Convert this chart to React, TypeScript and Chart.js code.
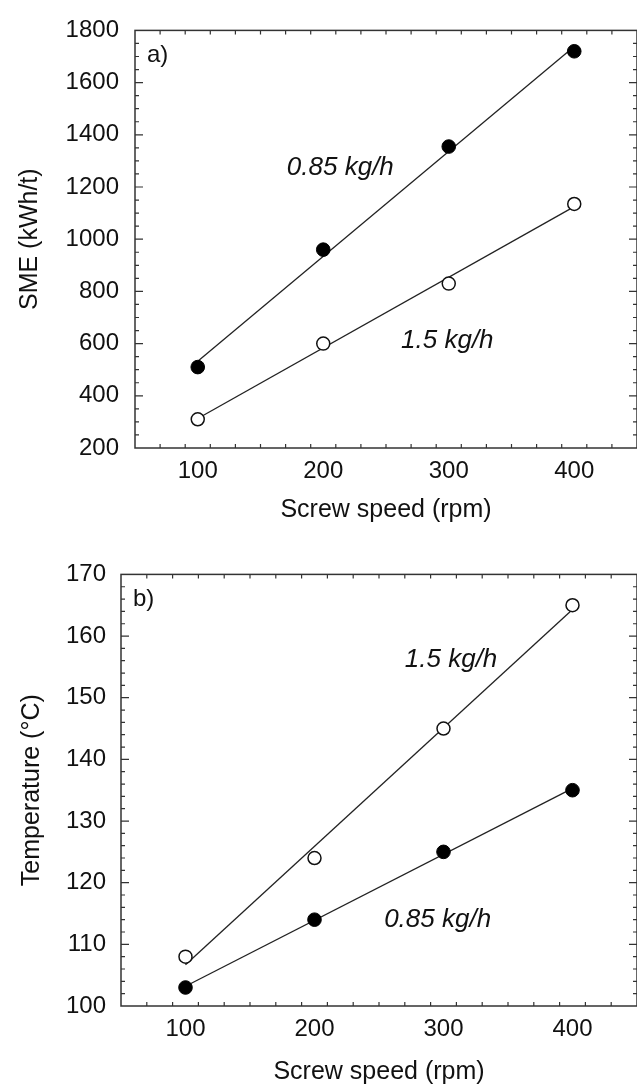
import React, { useEffect, useRef } from "react";
import { Chart, registerables } from "chart.js";

Chart.register(...registerables);

// ---------- data ----------
const SPEEDS = [100, 200, 300, 400];

const SME_085 = [510, 960, 1355, 1720];
const SME_15 = [310, 600, 830, 1135];
const FIT_X = [100, 400];
const SME_FIT_085 = [532, 1738];
const SME_FIT_15 = [313, 1125];

const TEMP_15 = [108, 124, 145, 165];
const TEMP_085 = [103, 114, 125, 135];
const TEMP_FIT_15 = [106.7, 164.3];
const TEMP_FIT_085 = [103.2, 135.3];

// ---------- ticks ----------
const X_TICKS = [100, 200, 300, 400];
const SME_TICKS = [200, 400, 600, 800, 1000, 1200, 1400, 1600, 1800];
const TEMP_TICKS = [100, 110, 120, 130, 140, 150, 160, 170];

// ---------- styling ----------
const FONT = "'Liberation Sans', Arial, Helvetica, sans-serif";
const INK = "#111";
const AXIS = "#333";

const pts = (xs: number[], ys: number[]) => xs.map((x, i) => ({ x, y: ys[i] }));

type Note = { text: string; x: number; y: number; italic: boolean; size: number };

const framePlugin = {
  id: "frame",
  afterDraw(chart: any, _args: any, opts: any) {
    const { ctx, chartArea } = chart;
    const { left, right, top, bottom } = chartArea;
    const xs = chart.scales.x;
    const ys = chart.scales.y;
    ctx.save();
    ctx.strokeStyle = AXIS;
    ctx.lineWidth = 1.5;
    ctx.strokeRect(left, top, right - left, bottom - top);
    ctx.lineWidth = 1.2;
    const major = 8;
    const minor = 4;
    ctx.beginPath();
    for (let v = xs.min; v <= xs.max + 1e-9; v += opts.xMinor) {
      const isMajor = opts.xMajor.includes(Math.round(v * 1000) / 1000);
      const len = isMajor ? major : minor;
      const px = xs.getPixelForValue(v);
      if (px <= left + 0.5 || px >= right - 0.5) continue;
      ctx.moveTo(px, bottom);
      ctx.lineTo(px, bottom - len);
      ctx.moveTo(px, top);
      ctx.lineTo(px, top + len);
    }
    for (let v = ys.min; v <= ys.max + 1e-9; v += opts.yMinor) {
      const isMajor = opts.yMajor.includes(Math.round(v * 1000) / 1000);
      const len = isMajor ? major : minor;
      const py = ys.getPixelForValue(v);
      if (py <= top + 0.5 || py >= bottom - 0.5) continue;
      ctx.moveTo(left, py);
      ctx.lineTo(left + len, py);
      ctx.moveTo(right, py);
      ctx.lineTo(right - len, py);
    }
    ctx.stroke();
    ctx.fillStyle = INK;
    ctx.textAlign = "left";
    ctx.textBaseline = "middle";
    (opts.notes as Note[]).forEach((n) => {
      ctx.font = `${n.italic ? "italic " : ""}${n.size}px ${FONT}`;
      ctx.fillText(n.text, xs.getPixelForValue(n.x), ys.getPixelForValue(n.y));
    });
    ctx.restore();
  },
};

function makeConfig(p: {
  filled: number[];
  open: number[];
  fitFilled: number[];
  fitOpen: number[];
  yMin: number;
  yMax: number;
  yTicks: number[];
  yMinor: number;
  yTitle: string;
  yWidth: number;
  yPad: number;
  yTitlePad: number;
  xHeight: number;
  xTitlePad: number;
  padTop: number;
  notes: Note[];
}) {
  return {
    type: "scatter",
    data: {
      datasets: [
        {
          data: pts(SPEEDS, p.filled),
          pointRadius: 6.8,
          pointBackgroundColor: "#000",
          pointBorderColor: "#000",
          pointBorderWidth: 1,
          showLine: false,
          order: 0,
        },
        {
          data: pts(SPEEDS, p.open),
          pointRadius: 6.5,
          pointBackgroundColor: "#fff",
          pointBorderColor: "#111",
          pointBorderWidth: 1.5,
          showLine: false,
          order: 0,
        },
        {
          data: pts(FIT_X, p.fitFilled),
          showLine: true,
          pointRadius: 0,
          borderColor: "#222",
          borderWidth: 1.3,
          order: 1,
        },
        {
          data: pts(FIT_X, p.fitOpen),
          showLine: true,
          pointRadius: 0,
          borderColor: "#222",
          borderWidth: 1.3,
          order: 1,
        },
      ],
    },
    options: {
      animation: false,
      responsive: false,
      devicePixelRatio: 1,
      layout: { padding: { top: p.padTop, right: 6, left: 0, bottom: 0 } },
      plugins: {
        legend: { display: false },
        tooltip: { enabled: false },
        frame: { xMinor: 20, xMajor: X_TICKS, yMinor: p.yMinor, yMajor: p.yTicks, notes: p.notes },
      },
      scales: {
        x: {
          type: "linear",
          min: 50,
          max: 450,
          afterBuildTicks: (s: any) => {
            s.ticks = X_TICKS.map((v) => ({ value: v }));
          },
          afterFit: (s: any) => {
            s.height = p.xHeight;
          },
          grid: { display: false, drawTicks: false },
          border: { display: false },
          ticks: {
            color: INK,
            font: { family: FONT, size: 24 },
            padding: 9,
            maxRotation: 0,
            callback: (v: any) => String(v),
          },
          title: {
            display: true,
            text: "Screw speed (rpm)",
            color: INK,
            font: { family: FONT, size: 25 },
            padding: { top: 0, bottom: p.xTitlePad },
          },
        },
        y: {
          type: "linear",
          min: p.yMin,
          max: p.yMax,
          afterBuildTicks: (s: any) => {
            s.ticks = p.yTicks.map((v) => ({ value: v }));
          },
          afterFit: (s: any) => {
            s.width = p.yWidth;
          },
          grid: { display: false, drawTicks: false },
          border: { display: false },
          ticks: {
            color: INK,
            font: { family: FONT, size: 24 },
            padding: p.yPad,
            callback: (v: any) => String(v),
          },
          title: {
            display: true,
            text: p.yTitle,
            color: INK,
            font: { family: FONT, size: 25 },
            padding: { top: p.yTitlePad, bottom: 0 },
          },
        },
      },
    },
    plugins: [framePlugin],
  } as any;
}

export default function App() {
  const topRef = useRef<HTMLCanvasElement>(null);
  const botRef = useRef<HTMLCanvasElement>(null);

  useEffect(() => {
    const c1 = new Chart(
      topRef.current!,
      makeConfig({
        filled: SME_085,
        open: SME_15,
        fitFilled: SME_FIT_085,
        fitOpen: SME_FIT_15,
        yMin: 200,
        yMax: 1800,
        yTicks: SME_TICKS,
        yMinor: 50,
        yTitle: "SME (kWh/t)",
        yWidth: 135,
        yPad: 16,
        yTitlePad: 15,
        xHeight: 97,
        xTitlePad: 20,
        padTop: 27,
        notes: [
          { text: "a)", x: 59.5, y: 1705, italic: false, size: 24 },
          { text: "0.85 kg/h", x: 171, y: 1275, italic: true, size: 26 },
          { text: "1.5 kg/h", x: 262, y: 610, italic: true, size: 26 },
        ],
      })
    );
    const c2 = new Chart(
      botRef.current!,
      makeConfig({
        filled: TEMP_085,
        open: TEMP_15,
        fitFilled: TEMP_FIT_085,
        fitOpen: TEMP_FIT_15,
        yMin: 100,
        yMax: 170,
        yTicks: TEMP_TICKS,
        yMinor: 2,
        yTitle: "Temperature (°C)",
        yWidth: 121,
        yPad: 15,
        yTitlePad: 17,
        xHeight: 81,
        xTitlePad: 0,
        padTop: 28,
        notes: [
          { text: "b)", x: 59.3, y: 166, italic: false, size: 24 },
          { text: "1.5 kg/h", x: 270, y: 156.2, italic: true, size: 26 },
          { text: "0.85 kg/h", x: 254, y: 114, italic: true, size: 26 },
        ],
      })
    );
    return () => {
      c1.destroy();
      c2.destroy();
    };
  }, []);

  return (
    <div
      style={{
        position: "absolute",
        left: 0,
        top: 0,
        width: 637,
        height: 1087,
        overflow: "hidden",
        background: "#fff",
      }}
    >
      <canvas
        ref={topRef}
        width={645}
        height={545}
        style={{ position: "absolute", left: 0, top: 0, width: 645, height: 545 }}
      />
      <canvas
        ref={botRef}
        width={645}
        height={542}
        style={{ position: "absolute", left: 0, top: 545, width: 645, height: 542 }}
      />
    </div>
  );
}
